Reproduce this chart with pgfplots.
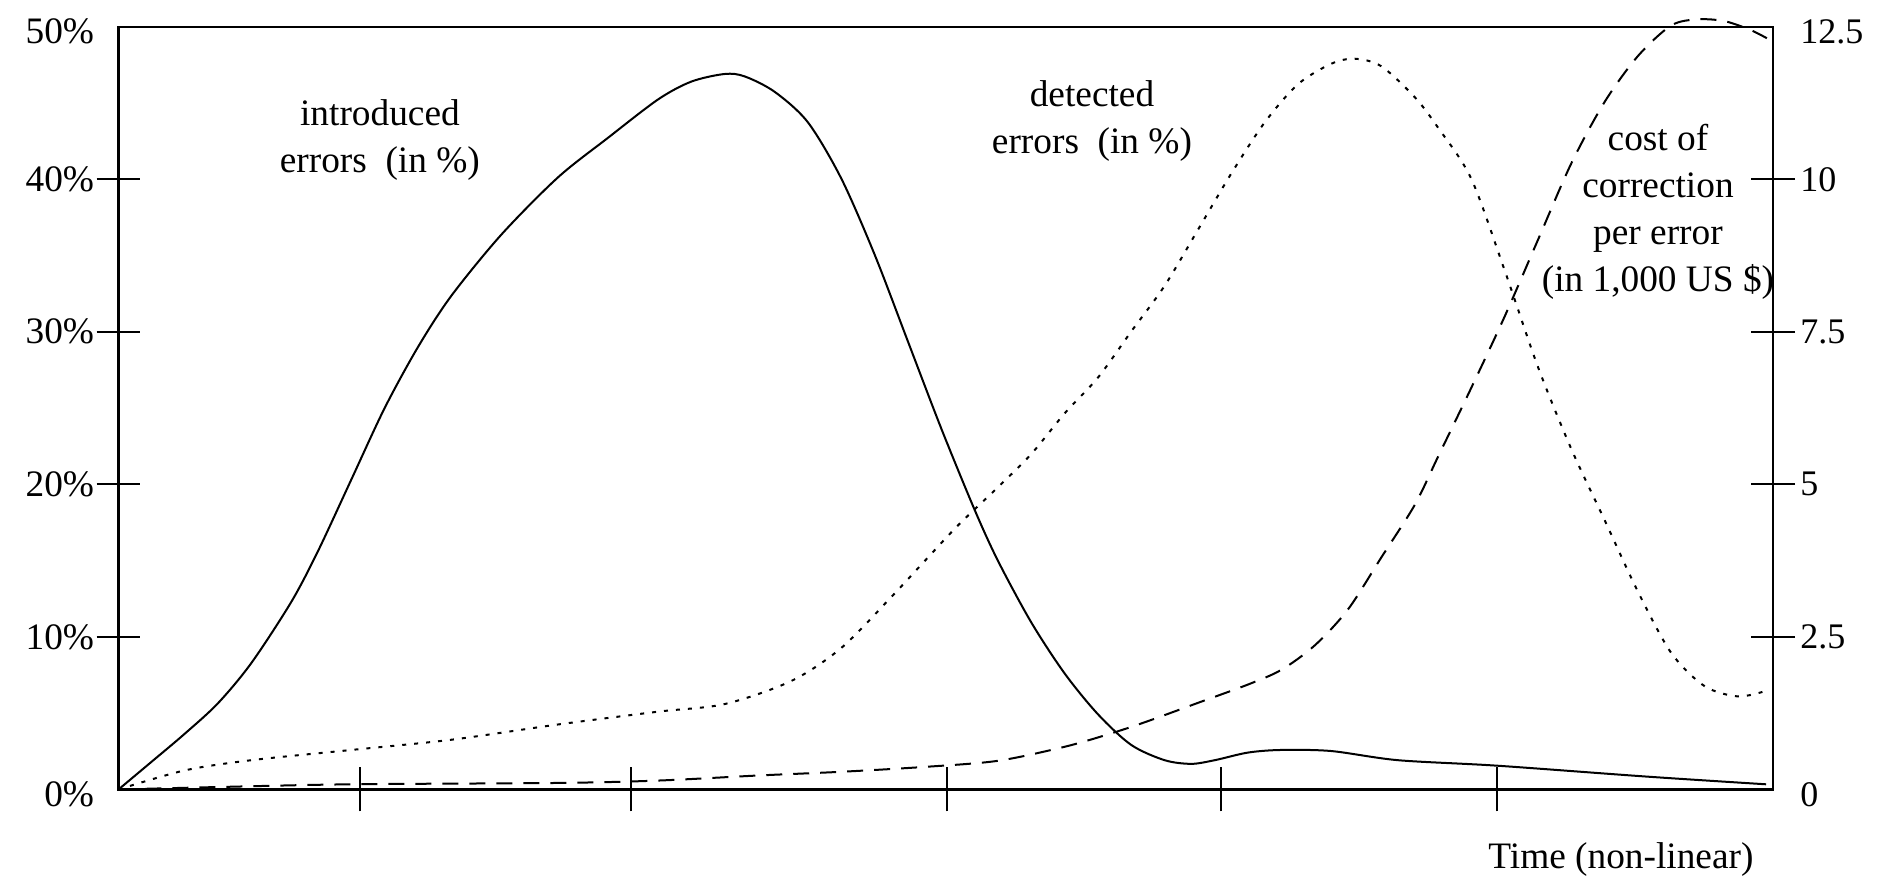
\documentclass[border=0pt]{standalone}
\usepackage{fontspec}
\setmainfont{Liberation Serif}
\usepackage{pgfplots}
\pgfplotsset{compat=1.18}
\begin{document}
\fontsize{11.2pt}{14.1pt}\selectfont
\begin{tikzpicture}
\pgfplotsset{
  common/.style={
    width=496.35pt, height=228.84pt, scale only axis,
    at={(0,0)}, anchor=south west,
    xmin=0, xmax=100,
    clip=false,
    axis line style={line width=0.7pt},
    tick style={line width=0.6pt, black},
    major tick length=13.2pt,
    tick align=center,
    ticklabel style={font=\fontsize{11.2pt}{13pt}\selectfont},
    /pgf/number format/assume math mode=true,
  }
}
\begin{axis}[common,
  ymin=0, ymax=50,
  xtick={14.6,30.98,50.08,66.64,83.32}, xticklabels={},
  tick pos=left,
  ytick={10,20,30,40},
  yticklabels={10\%,20\%,30\%,40\%},
  yticklabel style={xshift=3.2pt},
  extra y ticks={0,50}, extra y tick labels={0\%,50\%},
  extra y tick style={major tick style={draw=none}, yticklabel style={yshift=-1.5pt}},
]
\addplot[black, line width=0.6pt, smooth] coordinates {
(0,0)(1.98,1.80)(4.0,3.65)(6.01,5.65)(8.03,8.29)(10.44,12.29)(12.06,15.63)(14.07,20.31)(16.09,25.01)(18.10,29.0)(20.11,32.35)(23.14,36.37)(26.56,40.12)(29.59,42.72)(32.61,45.23)(34.62,46.40)(36.64,46.90)(37.85,46.74)(39.66,45.73)(41.67,43.73)(43.69,40.04)(45.71,35.04)(47.72,29.35)(49.73,23.66)(51.75,18.32)(53.16,14.98)(55.17,10.95)(57.19,7.60)(59.20,4.93)(61.21,2.92)(63.23,1.92)(64.84,1.68)(66.26,1.92)(68.27,2.42)(70.28,2.59)(73.30,2.52)(77.33,1.92)(83.32,1.56)(92.43,0.84)(99.58,0.34)
};
\addplot[black, line width=0.6pt, smooth, dash pattern=on 1.2pt off 2.4pt] coordinates {
(0,0)(4.0,1.25)(8.03,1.92)(14.07,2.59)(20.11,3.26)(26.56,4.26)(32.61,5.10)(36.64,5.60)(40.66,7.11)(43.69,9.28)(46.71,12.62)(48.73,14.98)(50.74,17.31)(53.16,19.82)(55.17,21.99)(57.19,24.66)(59.20,27.0)(61.21,30.02)(63.23,33.02)(65.25,36.70)(67.26,40.38)(69.28,43.73)(71.29,46.23)(73.30,47.57)(74.72,47.90)(76.32,47.41)(78.34,45.39)(79.75,43.39)(81.76,40.04)(83.78,34.03)(85.80,27.68)(87.81,22.32)(89.83,17.64)(91.84,12.96)(93.85,8.95)(95.87,6.77)(97.88,6.10)(99.50,6.44)
};
\node[align=center, font=\fontsize{11.2pt}{14.1pt}\selectfont] at (axis cs:15.8,42.58) {introduced\\errors\ \ (in \%)};
\node[align=center, font=\fontsize{11.2pt}{14.1pt}\selectfont] at (axis cs:58.84,43.82) {detected\\errors\ \ (in \%)};
\node[align=center, font=\fontsize{11.2pt}{14.1pt}\selectfont] at (axis cs:93.05,37.85) {cost of\\correction\\per error\\(in 1,000 US \$)};
\node[font=\fontsize{11.2pt}{14.1pt}\selectfont] at (axis cs:90.81,-4.62) {Time (non-linear)};
\end{axis}
\begin{axis}[common,
  axis y line*=right, axis x line=none,
  ymin=0, ymax=12.5,
  ytick={2.5,5,7.5,10}, yticklabels={2.5,5,7.5,10},
  yticklabel style={xshift=-2.3pt, font=\fontsize{10.8pt}{13pt}\selectfont},
  extra y ticks={0,12.5}, extra y tick labels={0,12.5},
  extra y tick style={major tick style={draw=none}, yticklabel style={yshift=-1.5pt}},
]
\addplot[black, line width=0.6pt, smooth, dash pattern=on 4.8pt off 3.3pt] coordinates {
(0,0)(6.0,0.04)(14.05,0.085)(26.56,0.107)(32.61,0.146)(38.65,0.229)(43.69,0.29)(48.73,0.37)(53.16,0.47)(57.19,0.70)(60.01,0.92)(62.22,1.12)(65.25,1.42)(68.27,1.72)(70.28,1.96)(72.30,2.36)(74.31,2.95)(76.32,3.80)(78.34,4.66)(79.75,5.45)(81.76,6.58)(83.78,7.75)(85.80,9.01)(87.81,10.26)(89.83,11.27)(91.84,12.02)(93.85,12.52)(95.47,12.62)(97.08,12.59)(98.69,12.44)(99.90,12.27)
};
\end{axis}
\pgfresetboundingbox
\path[use as bounding box] (-35.55pt,-26.85pt) rectangle (527.55pt,236.85pt);
\end{tikzpicture}
\end{document}
